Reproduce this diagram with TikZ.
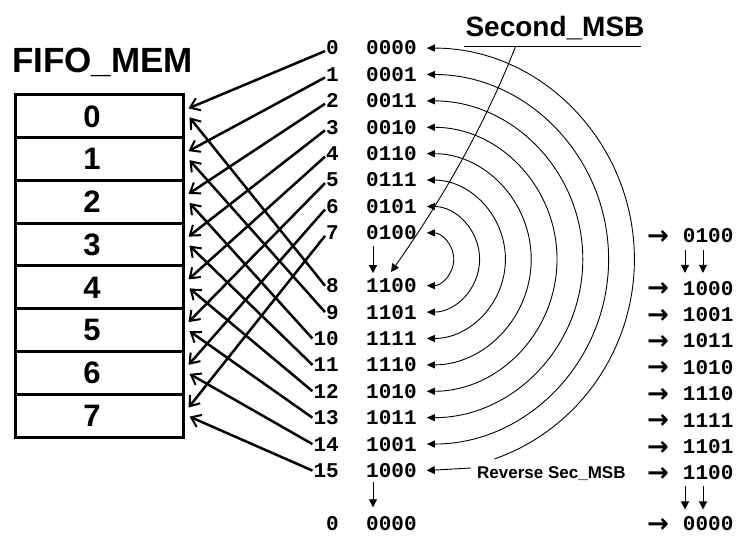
\documentclass[tikz,border=0pt]{standalone}
\usepackage{fontspec}
\setmainfont{Liberation Sans}
\newfontfamily\monof{Liberation Mono}
\newfontfamily\arrf{DejaVu Sans}
\usetikzlibrary{arrows.meta,calc}
\begin{document}
\begin{tikzpicture}[x=1pt,y=1pt,
  declare function={py(\p)=539-(49+26.4*\p);},
  idx/.style={font=\monof\bfseries\fontsize{21}{21}\selectfont, inner sep=0pt, anchor=base east},
  gcode/.style={font=\monof\bfseries\fontsize{21}{21}\selectfont, inner sep=0pt, anchor=base west},
  rcode/.style={font=\monof\bfseries\fontsize{21}{21}\selectfont, inner sep=0pt, anchor=base west},
  memcell/.style={draw, line width=3pt, minimum width=168pt, minimum height=42.75pt, inner sep=0pt, font=\bfseries\fontsize{31}{31}\selectfont},
  ptr/.style={line width=2.5pt, -{Straight Barb[length=9pt,width=13pt,line width=2pt]}},
  ring/.style={line width=0.9pt, {Triangle[length=8pt,width=7pt]}-{Triangle[length=8pt,width=7pt]}},
  ringone/.style={line width=0.9pt, {Triangle[length=8pt,width=7pt]}-},
  dnarr/.style={line width=0.9pt, -{Triangle[length=8pt,width=8pt]}},
]
\useasboundingbox (0,0) rectangle (755,539);

% title
\node[font=\bfseries\fontsize{35}{35}\selectfont, inner sep=0pt, anchor=base west] (title) at (12,{539-73}) {FIFO\_MEM};

% memory cells
\foreach \i in {0,...,7}
  \node[memcell] (m\i) at (99,{539-116.375-42.75*\i}) {\hspace*{-14pt}\i};

% index labels and gray codes
\foreach \k/\p/\c in {0/0/0000,1/1/0001,2/2/0011,3/3/0010,4/4/0110,5/5/0111,6/6/0101,7/7/0100,
                      8/9/1100,9/10/1101,10/11/1111,11/12/1110,12/13/1010,13/14/1011,14/15/1001,15/16/1000}
{
  \node[idx] (l\k) at (339,{py(\p)-6}) {\k};
  \node[gcode] (g\k) at (366,{py(\p)-6}) {\c};
}
\node[idx] (lz) at (339,{py(18)-6}) {0};
\node[gcode] (gz) at (366,{py(18)-6}) {0000};

% right column
\foreach \n/\p/\c/\o in {0/7/0100/9,1/9/1000/8.5,2/10/1001/8.5,3/11/1011/8.5,4/12/1010/8.5,5/13/1110/8.5,6/14/1111/8.5,7/15/1101/8.5,8/16/1100/8.5,9/18/0000/6.5}
  \node[rcode] (r\n) at (647,{py(\p)-\o}) {\raisebox{-1.5pt}{\arrf\bfseries\fontsize{26}{26}\selectfont →}\hspace{14pt}\c};

% pointers into memory
\foreach \k in {0,...,7}
  \draw[ptr] ($(l\k.west)+(-1,-3)$) -- ($(m\k.east)+(4,8)$);
\foreach \k [evaluate=\k as \b using int(\k-8)] in {8,...,15}
  \draw[ptr] ($(l\k.west)+(-1,0)$) -- ($(m\b.east)+(5,-1)$);

% concentric arcs
\foreach \j [evaluate=\j as \t using int(7-\j)] in {0,...,6}
  \draw[ring] ($(g\t.east)+(10,0)$) arc[start angle=90, end angle=-90, x radius={27+25.8*\j}, y radius={26.4*(\j+1)}];
\draw[ringone] ($(g0.east)+(10,0)$) arc[start angle=90, end angle=-71, x radius=207.6, y radius=211.2];

% Reverse Sec_MSB
\node[font=\bfseries\fontsize{17}{17}\selectfont, inner sep=0pt, anchor=base west] (rev) at (477,{539-478}) {Reverse Sec\_MSB};
\draw[dnarr] ($(rev.base west)+(-6,10)$) -- ($(g15.east)+(10,0)$);

% Second_MSB
\node[font=\bfseries\fontsize{28}{28}\selectfont, inner sep=0pt, anchor=base] (smsb) at (555,{539-37}) {Second\_MSB};
\draw[line width=1pt] ($(smsb.base west)+(-1,-10)$) -- ($(smsb.base east)+(-4,-10)$);
\coordinate (sm0) at ($(smsb.base west)+(50,-10)$);
\coordinate (sm1) at (391,{539-272});
\draw[dnarr] (sm0) .. controls (486,{539-122}) and (444,{539-197}) .. (sm1);

% down arrows
\draw[dnarr] ($(g7.west)+(7,-13)$) -- ($(g8.west)+(7,12.6)$);
\draw[dnarr] ($(g15.west)+(7,-12)$) -- ($(gz.west)+(7,16)$);
\draw[dnarr] ($(r0.west)+(38,-13)$) -- ($(r1.west)+(38,16)$);
\draw[dnarr] ($(r0.west)+(56,-13)$) -- ($(r1.west)+(56,16)$);
\draw[dnarr] ($(r8.west)+(38,-12.6)$) -- ($(r9.west)+(38,15)$);
\draw[dnarr] ($(r8.west)+(56,-12.6)$) -- ($(r9.west)+(56,15)$);
\end{tikzpicture}
\end{document}
